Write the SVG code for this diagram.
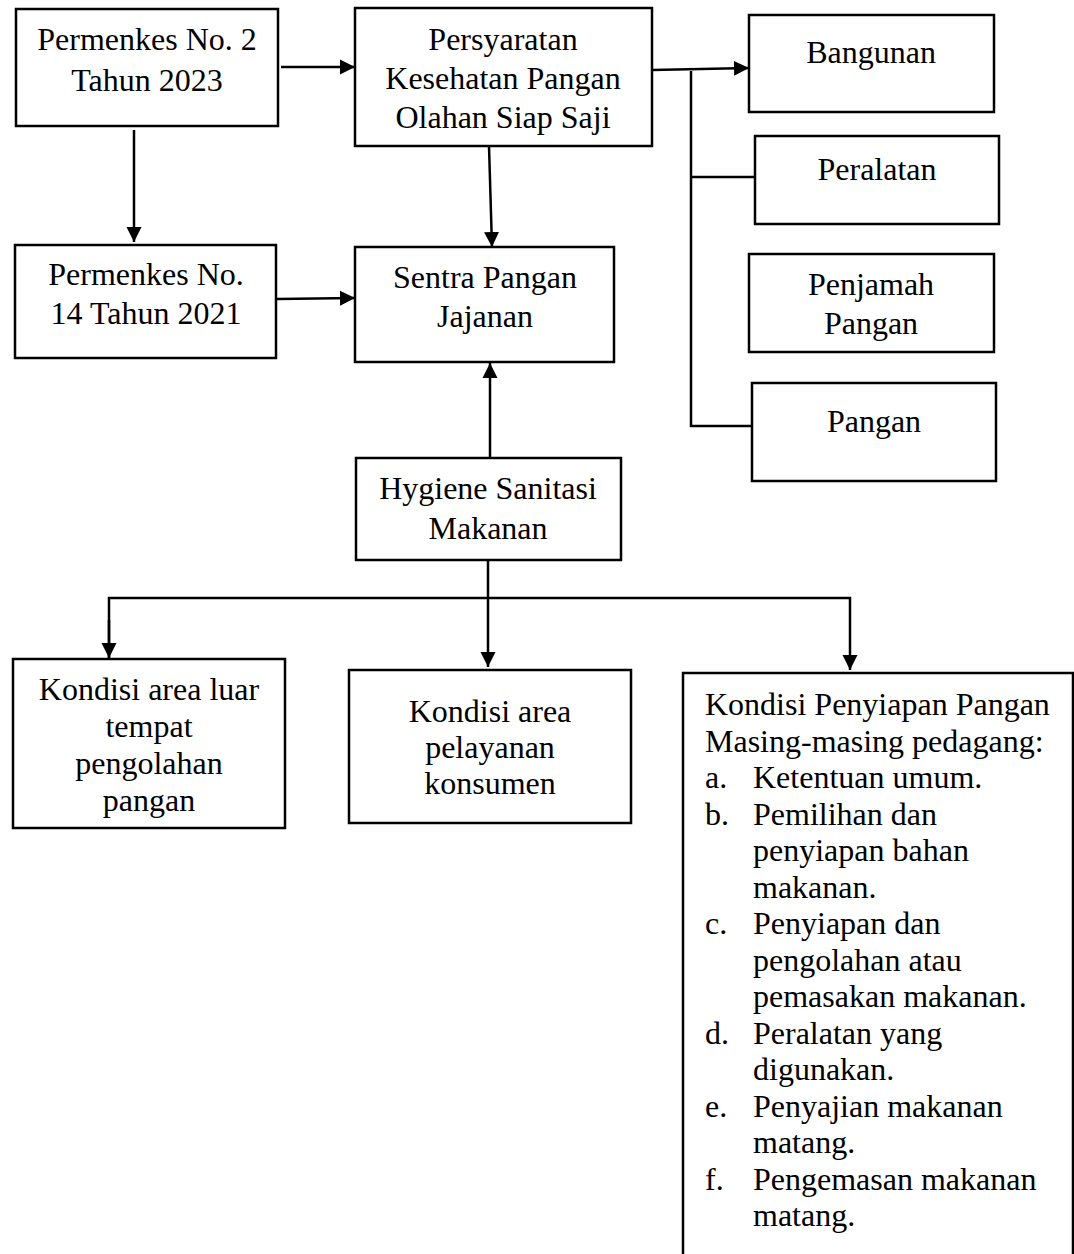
<svg xmlns="http://www.w3.org/2000/svg" width="1074" height="1254" viewBox="0 0 1074 1254">
<style>
.box{fill:#fff;stroke:#000;stroke-width:2.5}
.t{font-family:"Liberation Serif","Times New Roman",serif;font-size:32px;fill:#000}
.c{text-anchor:middle}
.ln{fill:none;stroke:#000;stroke-width:2.5}
</style>
<defs>
<marker id="ah" markerUnits="userSpaceOnUse" markerWidth="16" markerHeight="16" refX="15" refY="8" orient="auto">
<path d="M0,0.5 L15,8 L0,15.5 z" fill="#000"/>
</marker>
</defs>
<rect width="1074" height="1254" fill="#fff"/>
<g id="connectors">
<line class="ln" x1="281" y1="67" x2="355" y2="67" marker-end="url(#ah)"/>
<line class="ln" x1="134" y1="130" x2="134" y2="242" marker-end="url(#ah)"/>
<line class="ln" x1="277" y1="299" x2="355" y2="298" marker-end="url(#ah)"/>
<line class="ln" x1="489" y1="146" x2="492" y2="247" marker-end="url(#ah)"/>
<line class="ln" x1="652" y1="70" x2="749" y2="68" marker-end="url(#ah)"/>
<polyline class="ln" points="691,71 691,426 752,426"/>
<line class="ln" x1="691" y1="177" x2="755" y2="177"/>
<line class="ln" x1="490" y1="458" x2="490" y2="363" marker-end="url(#ah)"/>
<line class="ln" x1="488" y1="560" x2="488" y2="667" marker-end="url(#ah)"/>
<polyline class="ln" points="109,658 109,598 850,598 850,670" marker-end="url(#ah)"/>
<line class="ln" x1="109" y1="620" x2="109" y2="658" marker-end="url(#ah)"/>
</g>
<g id="n1"><rect class="box" x="16" y="9" width="262" height="117"/>
<text class="t c" x="147" y="50">Permenkes No. 2</text><text class="t c" x="147" y="91">Tahun 2023</text></g>
<g id="n2"><rect class="box" x="355" y="8" width="297" height="138"/>
<text class="t c" x="503" y="50">Persyaratan</text><text class="t c" x="503" y="89">Kesehatan Pangan</text><text class="t c" x="503" y="128">Olahan Siap Saji</text></g>
<g id="n3"><rect class="box" x="15" y="245" width="261" height="113"/>
<text class="t c" x="146" y="285">Permenkes No.</text><text class="t c" x="146" y="324">14 Tahun 2021</text></g>
<g id="n4"><rect class="box" x="355" y="247" width="259" height="115"/>
<text class="t c" x="485" y="288">Sentra Pangan</text><text class="t c" x="485" y="327">Jajanan</text></g>
<g id="n5"><rect class="box" x="749" y="15" width="245" height="97"/>
<text class="t c" x="871" y="63">Bangunan</text></g>
<g id="n6"><rect class="box" x="755" y="136" width="244" height="88"/>
<text class="t c" x="877" y="180">Peralatan</text></g>
<g id="n7"><rect class="box" x="749" y="254" width="245" height="98"/>
<text class="t c" x="871" y="295">Penjamah</text><text class="t c" x="871" y="334">Pangan</text></g>
<g id="n8"><rect class="box" x="752" y="383" width="244" height="98"/>
<text class="t c" x="874" y="432">Pangan</text></g>
<g id="n9"><rect class="box" x="356" y="458" width="265" height="102"/>
<text class="t c" x="488" y="499">Hygiene Sanitasi</text><text class="t c" x="488" y="539">Makanan</text></g>
<g id="n10"><rect class="box" x="13" y="659" width="272" height="169"/>
<text class="t c" x="149" y="700">Kondisi area luar</text><text class="t c" x="149" y="737">tempat</text><text class="t c" x="149" y="774">pengolahan</text><text class="t c" x="149" y="811">pangan</text></g>
<g id="n11"><rect class="box" x="349" y="670" width="282" height="153"/>
<text class="t c" x="490" y="722">Kondisi area</text><text class="t c" x="490" y="758">pelayanan</text><text class="t c" x="490" y="794">konsumen</text></g>
<g id="n12"><rect class="box" x="683" y="673" width="390" height="600"/>
<text class="t" x="705" y="715">Kondisi Penyiapan Pangan</text>
<text class="t" x="705" y="751.5">Masing-masing pedagang:</text>
<text class="t" x="705" y="788">a.</text><text class="t" x="753" y="788">Ketentuan umum.</text>
<text class="t" x="705" y="824.5">b.</text><text class="t" x="753" y="824.5">Pemilihan dan</text>
<text class="t" x="753" y="861">penyiapan bahan</text>
<text class="t" x="753" y="897.5">makanan.</text>
<text class="t" x="705" y="934">c.</text><text class="t" x="753" y="934">Penyiapan dan</text>
<text class="t" x="753" y="970.5">pengolahan atau</text>
<text class="t" x="753" y="1007">pemasakan makanan.</text>
<text class="t" x="705" y="1043.5">d.</text><text class="t" x="753" y="1043.5">Peralatan yang</text>
<text class="t" x="753" y="1080">digunakan.</text>
<text class="t" x="705" y="1116.5">e.</text><text class="t" x="753" y="1116.5">Penyajian makanan</text>
<text class="t" x="753" y="1153">matang.</text>
<text class="t" x="705" y="1189.5">f.</text><text class="t" x="753" y="1189.5">Pengemasan makanan</text>
<text class="t" x="753" y="1226">matang.</text></g>
</svg>
